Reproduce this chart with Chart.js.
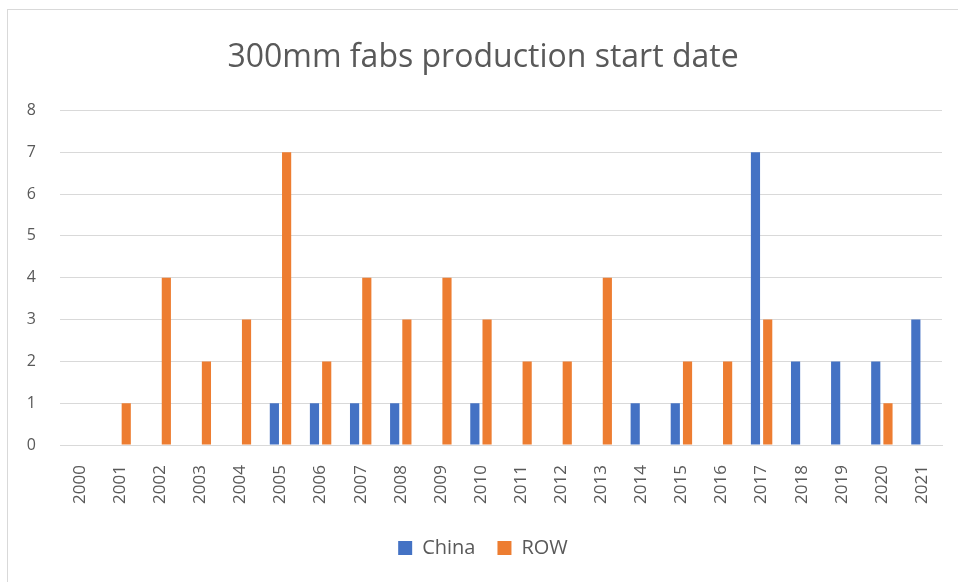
<!DOCTYPE html>
<html>
<head>
<meta charset="utf-8">
<script src="https://cdn.jsdelivr.net/npm/chart.js@4/dist/chart.umd.min.js"></script>
<style>
  html, body { margin:0; padding:0; background:#fff; }
  #wrap { position:absolute; left:0; top:0; width:958px; height:582px; }
  #frame { position:absolute; left:7px; top:9px; width:960px; height:600px; border-left:1px solid #d9d9d9; border-top:1px solid #d9d9d9; }
</style>
</head>
<body>
<div id="frame"></div>
<div id="wrap"><canvas id="chart" width="958" height="582"></canvas></div>
<script>
// chart data
const years = ['2000','2001','2002','2003','2004','2005','2006','2007','2008','2009','2010',
               '2011','2012','2013','2014','2015','2016','2017','2018','2019','2020','2021'];
const china = [0,0,0,0,0,1,1,1,1,0,1,0,0,0,1,1,0,7,2,2,2,3];
const row   = [0,1,4,2,3,7,2,4,3,4,3,2,2,4,0,2,2,3,0,0,1,0];
const yTicks = [0,1,2,3,4,5,6,7,8];

const FONT = "'Open Sans', 'Noto Sans', sans-serif";
const TXT = '#595959';

const ctx = document.getElementById('chart').getContext('2d');
new Chart(ctx, {
  type: 'bar',
  data: {
    labels: years,
    datasets: [
      { label: 'China', data: china, backgroundColor: '#4472c4', categoryPercentage: 0.61, barPercentage: 0.75 },
      { label: 'ROW', data: row, backgroundColor: '#ed7d31', categoryPercentage: 0.61, barPercentage: 0.75 }
    ]
  },
  options: {
    responsive: false,
    animation: false,
    layout: { padding: { left: 24, right: 16, top: 39, bottom: 14 } },
    plugins: {
      title: {
        display: true,
        text: '300mm fabs production start date',
        color: TXT,
        font: { family: FONT, size: 32, weight: 'normal' },
        padding: { top: 0, bottom: 33 }
      },
      legend: {
        position: 'bottom',
        labels: {
          color: TXT,
          font: { family: FONT, size: 20 },
          boxWidth: 14, boxHeight: 14,
          padding: 22
        }
      },
      tooltip: { enabled: false }
    },
    scales: {
      x: {
        grid: { display: false },
        border: { color: '#d9d9d9' },
        ticks: {
          color: TXT, font: { family: FONT, size: 17 },
          maxRotation: 90, minRotation: 90, padding: 12
        }
      },
      y: {
        min: 0, max: 8,
        afterBuildTicks: (axis) => { axis.ticks = yTicks.map(v => ({ value: v })); },
        afterFit: (axis) => { axis.width = 36; },
        grid: { color: '#d9d9d9', drawTicks: false },
        border: { display: false },
        ticks: { color: TXT, font: { family: FONT, size: 16 }, padding: 24 }
      }
    }
  }
});
</script>
</body>
</html>
